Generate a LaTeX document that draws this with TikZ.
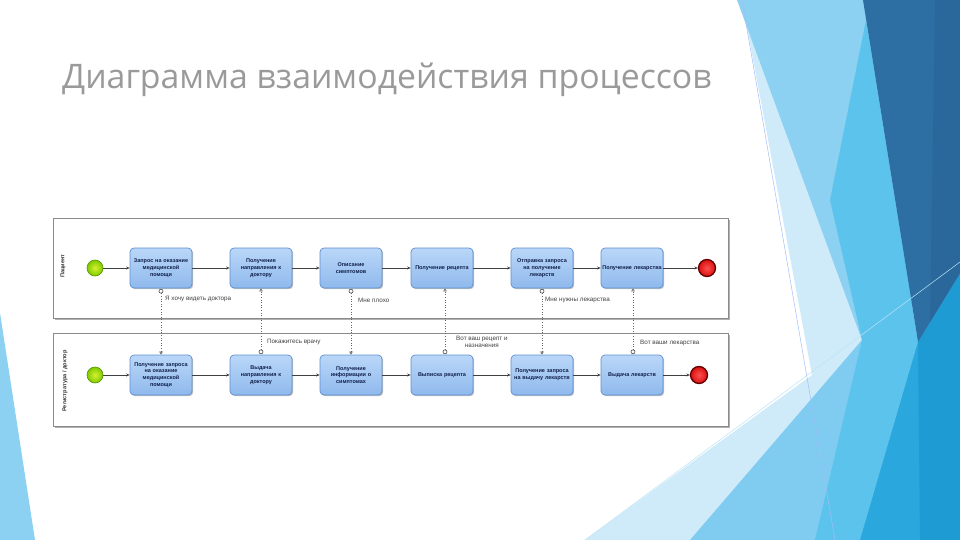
\documentclass[tikz,border=0pt]{standalone}
\usepackage{fontspec}
\setmainfont{Liberation Sans}
\newfontfamily\titlefont{Open Sans}
\usetikzlibrary{arrows.meta,shadows,calc}
\definecolor{titlegray}{HTML}{9A9A9A}
\definecolor{bgpale}{HTML}{CFEBF9}
\definecolor{bglight}{HTML}{8DD1F2}
\definecolor{bglight2}{HTML}{80CCF0}
\definecolor{bgmed}{HTML}{5CC3ED}
\definecolor{bgsat}{HTML}{2AA7DC}
\definecolor{bgsat2}{HTML}{1F9BD3}
\definecolor{bgdark}{HTML}{2E6FA3}
\definecolor{bgdark2}{HTML}{2A689B}
\definecolor{tasktop}{HTML}{BAD7F8}
\definecolor{taskbot}{HTML}{8FB9ED}
\definecolor{taskborder}{HTML}{5F8FD0}
\definecolor{tasktext}{HTML}{10204A}
\definecolor{poolborder}{HTML}{8A8A8A}
\definecolor{startin}{HTML}{D8F030}
\definecolor{startout}{HTML}{7CCB00}
\definecolor{startdraw}{HTML}{5A9000}
\definecolor{endin}{HTML}{FF5050}
\definecolor{endout}{HTML}{D81010}
\definecolor{enddraw}{HTML}{600000}
\tikzset{
  task/.style={rounded corners=4pt, draw=taskborder, line width=0.7pt,
    top color=tasktop, bottom color=taskbot, minimum width=62pt, minimum height=40pt,
    text width=62pt, align=center, inner xsep=0pt, inner ysep=1pt,
    font=\fontsize{5.5}{6.8}\selectfont\bfseries, text=tasktext,
    drop shadow={shadow xshift=1.2pt, shadow yshift=-1.2pt, fill=black, opacity=0.25}},
  pool/.style={draw=poolborder, line width=0.6pt, fill=white,
    drop shadow={shadow xshift=2pt, shadow yshift=-2pt, fill=black, opacity=0.3}},
  poollabel/.style={font=\fontsize{5.6}{6.8}\selectfont\bfseries, text=black!80, inner sep=0},
  startev/.style={circle, minimum size=16pt, inner sep=0, draw=startdraw, line width=0.6pt,
    inner color=startin, outer color=startout},
  endev/.style={circle, minimum size=17pt, inner sep=0, draw=enddraw, line width=1.3pt,
    inner color=endin, outer color=endout},
  seq/.style={draw=black!75, line width=0.8pt, -{Stealth[length=3.5pt,width=3pt]}},
  msg/.style={draw=black!60, line width=0.6pt, dotted, -{Triangle[open,length=3pt,width=3.5pt]}},
  msgstart/.style={circle, draw=black!70, fill=white, inner sep=0, minimum size=4pt, line width=0.6pt},
  msglabel/.style={font=\fontsize{6.3}{7.3}\selectfont, text=black!75, inner sep=0, align=center}
}
\begin{document}
\begin{tikzpicture}[x=1pt,y=-1pt]
\useasboundingbox (0,0) rectangle (960,540);
\fill[white] (0,0) rectangle (960,540);
% background decoration
\fill[bgpale] (742,0) -- (812,375) -- (585,540) -- (960,540) -- (960,0) -- cycle;
\fill[bglight] (737,0) -- (862,340) -- (960,270) -- (960,0) -- cycle;
\fill[bglight2] (690,540) -- (862,340) -- (960,330) -- (960,540) -- cycle;
\fill[bgmed] (866,20) -- (918,342) -- (880,540) -- (815,540) -- (862,340) -- (830,200) -- cycle;
\fill[bgsat] (918,342) -- (960,273) -- (960,540) -- (860,540) -- cycle;
\fill[bgsat2] (918,342) -- (960,273) -- (960,540) -- (920,540) -- cycle;
\fill[bgdark] (863,0) -- (960,0) -- (960,273) -- (918,342) -- cycle;
\fill[bgdark2] (935,0) -- (960,0) -- (960,273) -- (930,322) -- cycle;
\draw[color=bglight!70!blue!60!white, line width=0.5pt] (742,0) -- (835,540);
\draw[color=bglight!60!white, line width=0.5pt] (585,540) -- (960,262);
\fill[bglight] (0,313) -- (35,540) -- (0,540) -- cycle;
% title
\node[anchor=base west, font=\titlefont\fontsize{33.8}{40}\selectfont, text=titlegray, inner sep=0] (title) at (62,89) {Диаграмма взаимодействия процессов};
% pools
\node[pool, minimum width=675pt, minimum height=100pt, inner sep=0] (pool1) at (390.5,268) {};
\node[pool, minimum width=675pt, minimum height=93pt, inner sep=0] (pool2) at (390.5,379.5) {};
\node[poollabel, rotate=90] (pl1) at (63,266) {Пациент};
\node[poollabel, rotate=90] (pl2) at (65,381) {Регистратура / доктор};
% pool 1
\node[startev] (s1) at (95,268) {};
\node[task] (t11) at (161,268) {Запрос на оказание\\медицинской\\помощи};
\node[task] (t12) at (261,268) {Получение\\направления к\\доктору};
\node[task] (t13) at (351,268) {Описание\\симптомов};
\node[task] (t14) at (442,268) {Получение рецепта};
\node[task] (t15) at (542,268) {Отправка запроса\\на получение\\лекарств};
\node[task] (t16) at (632,268) {Получение лекарства};
\node[endev] (e1) at (707,268) {};
\draw[seq] (s1) -- (t11);
\draw[seq] (t11) -- (t12);
\draw[seq] (t12) -- (t13);
\draw[seq] (t13) -- (t14);
\draw[seq] (t14) -- (t15);
\draw[seq] (t15) -- (t16);
\draw[seq] (t16) -- (e1);
% pool 2
\node[startev] (s2) at (95,375) {};
\node[task] (t21) at (161,375) {Получение запроса\\на оказание\\медицинской\\помощи};
\node[task] (t22) at (261,375) {Выдача\\направления к\\доктору};
\node[task] (t23) at (351,375) {Получение\\информации о\\симптомах};
\node[task] (t24) at (442,375) {Выписка рецепта};
\node[task] (t25) at (542,375) {Получение запроса\\на выдачу лекарств};
\node[task] (t26) at (632,375) {Выдача лекарств};
\node[endev] (e2) at (699,375) {};
\draw[seq] (s2) -- (t21);
\draw[seq] (t21) -- (t22);
\draw[seq] (t22) -- (t23);
\draw[seq] (t23) -- (t24);
\draw[seq] (t24) -- (t25);
\draw[seq] (t25) -- (t26);
\draw[seq] (t26) -- (e2);
% message flows
\node[msgstart, anchor=north] (c1) at ($(t11.south)+(0,0.5)$) {};
\draw[msg] (c1) -- (t21.north);
\node[msglabel, anchor=west] (l1) at (165,299) {Я хочу видеть доктора};
\node[msgstart, anchor=south] (c2) at ($(t22.north)+(0,-0.5)$) {};
\draw[msg] (c2) -- (t12.south);
\node[msglabel, anchor=west] (l2) at (267,342) {Покажитесь врачу};
\node[msgstart, anchor=north] (c3) at ($(t13.south)+(0,0.5)$) {};
\draw[msg] (c3) -- (t23.north);
\node[msglabel, anchor=west] (l3) at (358,300) {Мне плохо};
\node[msgstart, anchor=south] (c4) at ($(t24.north)+(3,-0.5)$) {};
\draw[msg] (c4) -- (c4 |- t14.south);
\node[msglabel, anchor=west] (l4) at (456,342) {Вот ваш рецепт и\\назначения};
\node[msgstart, anchor=north] (c5) at ($(t15.south)+(0,0.5)$) {};
\draw[msg] (c5) -- (t25.north);
\node[msglabel, anchor=west] (l5) at (545,300) {Мне нужны лекарства};
\node[msgstart, anchor=south] (c6) at ($(t26.north)+(1,-0.5)$) {};
\draw[msg] (c6) -- (c6 |- t16.south);
\node[msglabel, anchor=west] (l6) at (640,343) {Вот ваши лекарства};
\end{tikzpicture}
\end{document}
